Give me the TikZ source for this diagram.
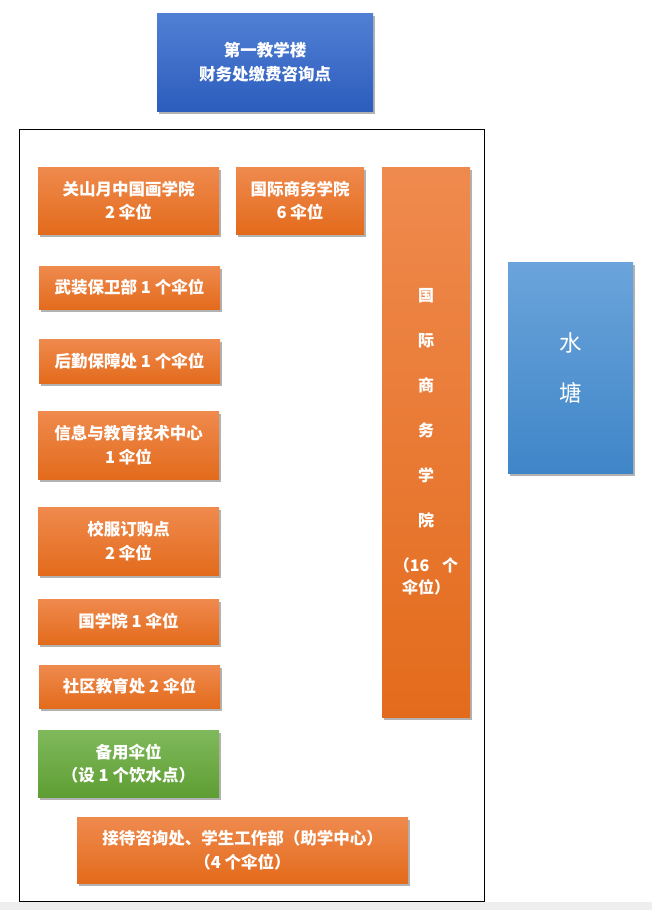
\documentclass[tikz,border=0pt]{standalone}
\usepackage{fontspec}
\setmainfont{Noto Sans CJK SC}
\usetikzlibrary{shadows}
\definecolor{orTop}{HTML}{EF8A4E}
\definecolor{orBot}{HTML}{E36B1C}
\definecolor{blTop}{HTML}{5080D4}
\definecolor{blBot}{HTML}{2D5DBD}
\definecolor{wtTop}{HTML}{6BA4DB}
\definecolor{wtBot}{HTML}{3F86C8}
\definecolor{grTop}{HTML}{80B95C}
\definecolor{grBot}{HTML}{5E9E33}
\definecolor{band}{HTML}{EEEEEE}
\tikzset{
  card/.style={rectangle, inner sep=0pt, text=white, align=center,
    font=\bfseries\fontsize{16.5}{23.5}\selectfont,
    drop shadow={opacity=0.3, shadow xshift=1.5pt, shadow yshift=-3pt, fill=black}},
  orange/.style={card, top color=orTop, bottom color=orBot},
  bluebox/.style={card, top color=blTop, bottom color=blBot},
  waterbox/.style={card, top color=wtTop, bottom color=wtBot, font=\fontsize{22.5}{50}\selectfont},
  greenbox/.style={card, top color=grTop, bottom color=grBot},
  frame/.style={rectangle, draw=black, line width=0.8pt, inner sep=0pt}
}
\begin{document}
\begin{tikzpicture}[x=1pt,y=1pt]
\useasboundingbox (0,0) rectangle (652,-910);
\fill[band] (0,-902) rectangle (652,-910);
\node[frame, minimum width=465pt, minimum height=772pt] (outer) at (251.5,-515) {};
\node[bluebox, minimum width=216pt, minimum height=98pt] (top) at (265,-62) {第一教学楼\\财务处缴费咨询点};
\node[orange, minimum width=181pt, minimum height=67pt] (gsy) at (128.5,-200.5) {关山月中国画学院\\2 伞位};
\node[orange, minimum width=128pt, minimum height=67pt] (gjsw) at (300,-200.5) {国际商务学院\\6 伞位};
\node[orange, minimum width=88pt, minimum height=550pt, font=\bfseries\fontsize{16}{22}\selectfont] (tall) at (426,-442)
  {国\\[23pt]际\\[23pt]商\\[23pt]务\\[23pt]学\\[23pt]院\\[23pt]（16\hspace{0.8em}个\\伞位）\hspace{0.5em}};
\node[waterbox, minimum width=125pt, minimum height=211pt] (water) at (570.5,-367.5) {水\\塘};
\node[orange, minimum width=181pt, minimum height=43pt] (wz) at (129.5,-287.5) {武装保卫部 1 个伞位};
\node[orange, minimum width=181pt, minimum height=44pt] (hq) at (129.5,-361) {后勤保障处 1 个伞位};
\node[orange, minimum width=181pt, minimum height=68pt] (xx) at (128.5,-445) {信息与教育技术中心\\1 伞位};
\node[orange, minimum width=181pt, minimum height=68pt] (xf) at (128.5,-541) {校服订购点\\2 伞位};
\node[orange, minimum width=181pt, minimum height=45pt] (gxy) at (128.5,-621.5) {国学院 1 伞位};
\node[orange, minimum width=181pt, minimum height=43pt] (sq) at (129.5,-686.5) {社区教育处 2 伞位};
\node[greenbox, minimum width=181pt, minimum height=67pt] (by) at (128.5,-763.5) {备用伞位\\（设 1 个饮水点）};
\node[orange, minimum width=331pt, minimum height=66pt] (jd) at (242.5,-850) {接待咨询处、学生工作部（助学中心）\\（4 个伞位）};
\end{tikzpicture}
\end{document}
